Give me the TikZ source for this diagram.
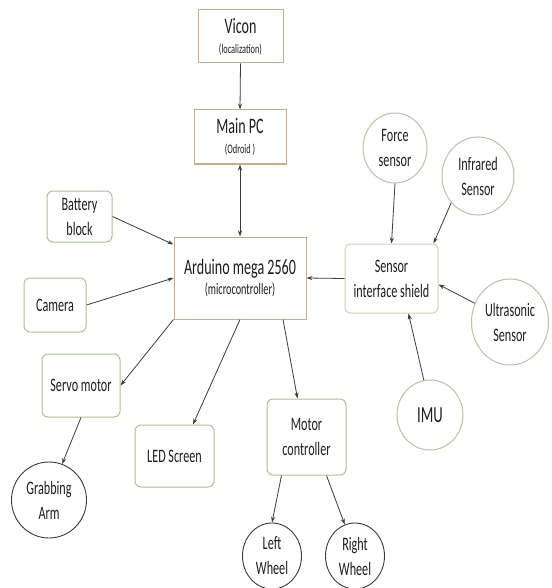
\documentclass[tikz,border=0pt]{standalone}
\usepackage{fontspec}
\setmainfont{Carlito}[FakeStretch=0.64]
\usetikzlibrary{arrows.meta,shapes.geometric}
\definecolor{tanc}{HTML}{C9AC88}
\definecolor{lighttan}{HTML}{DDCBB0}
\definecolor{greenc}{HTML}{A9C48E}
\definecolor{circc}{HTML}{B3C6A2}
\definecolor{darkc}{HTML}{3A3A3A}
\definecolor{arrc}{HTML}{3C3C3C}
\definecolor{txt}{HTML}{1E1E1E}
\newcommand{\fbig}{\fontsize{22}{26}\selectfont}
\newcommand{\fmid}{\fontsize{19}{25}\selectfont}
\newcommand{\fsml}{\fontsize{16}{20}\selectfont}
\newcommand{\ftiny}{\fontsize{13}{16}\selectfont}
\begin{document}
\begin{tikzpicture}[x=1pt,y=-1pt,
  tanbox/.style={rectangle,draw=tanc,line width=1pt,inner sep=0pt,align=center,text=txt},
  shieldbox/.style={rectangle,draw=lighttan,line width=1pt,rounded corners=5pt,inner sep=0pt,align=center,text=txt,font=\fmid},
  greenbox/.style={rectangle,draw=greenc,line width=1pt,rounded corners=6pt,inner sep=0pt,align=center,text=txt,font=\fmid},
  greencirc/.style={ellipse,draw=circc,line width=1pt,inner sep=0pt,align=center,text=txt,font=\fmid},
  darkcirc/.style={ellipse,draw=darkc,line width=0.9pt,inner sep=0pt,align=center,text=txt,font=\fmid},
  arr/.style={-{Stealth[length=6pt,width=4pt]},draw=arrc,line width=0.8pt},
  dbl/.style={{Stealth[length=6pt,width=4pt]}-{Stealth[length=6pt,width=4pt]},draw=arrc,line width=0.8pt}]
\useasboundingbox (0,0) rectangle (551,588);
\fill[white] (0,0) rectangle (551,588);

\node[tanbox,minimum width=85pt,minimum height=53pt] (vicon) at (240.5,36.5)
  {{\fbig Vicon}\\[8pt]{\ftiny (localization)}};
\node[tanbox,minimum width=92pt,minimum height=54pt] (pc) at (240,137)
  {{\fbig Main PC}\\[8pt]{\ftiny (Odroid )}};
\node[tanbox,minimum width=132pt,minimum height=82pt] (ard) at (240,278)
  {{\fbig Arduino mega 2560}\\[4pt]{\fsml (microcontroller)}};
\node[shieldbox,minimum width=93pt,minimum height=69pt] (shield) at (391.5,278.5)
  {Sensor\\interface shield};

\node[greenbox,minimum width=65pt,minimum height=51pt] (bat) at (79.5,216.5)
  {Battery\\block};
\node[greenbox,minimum width=62pt,minimum height=54pt] (cam) at (55,305)
  {Camera};
\node[greenbox,minimum width=78pt,minimum height=63pt] (servo) at (81,385.5)
  {Servo motor};
\node[greenbox,minimum width=79pt,minimum height=62pt] (led) at (174.5,456)
  {LED Screen};
\node[greenbox,minimum width=79pt,minimum height=76pt] (motor) at (306.5,437)
  {Motor\\controller};

\node[greencirc,minimum width=64pt,minimum height=70pt] (force) at (395,148)
  {Force\\sensor};
\node[greencirc,minimum width=72pt,minimum height=78pt] (ir) at (478,176)
  {Infrared\\Sensor};
\node[greencirc,minimum width=77pt,minimum height=86pt] (us) at (510,322)
  {Ultrasonic\\Sensor};
\node[greencirc,minimum width=66pt,minimum height=70pt,font=\fontsize{23}{27}\selectfont] (imu) at (430,415)
  {IMU};

\node[darkcirc,minimum width=75pt,minimum height=76pt] (grab) at (49,500)
  {Grabbing\\Arm};
\node[darkcirc,minimum width=59pt,minimum height=66pt] (lw) at (272,556)
  {Left\\Wheel};
\node[darkcirc,minimum width=59pt,minimum height=66pt] (rw) at (355,556)
  {Right\\Wheel};

\draw[arr] (vicon.south) -- (pc.north);
\draw[dbl] (pc.south) -- (ard.north);
\draw[arr] (bat.east) -- ([yshift=-8pt]ard.north west);
\draw[arr] (cam.east) -- (ard.west);
\draw[arr] (ard.south west) -- (servo.east);
\draw[arr] (ard.south) -- ([xshift=18.5pt]led.north);
\draw[arr] ([xshift=43pt]ard.south) -- ([xshift=-9pt]motor.north);
\draw[arr] (shield.west) -- (ard.east);
\draw[arr] (force.south) -- (shield.north);
\draw[arr] (ir.225) -- ([xshift=-5pt]shield.north east);
\draw[arr] (us.152) -- ([yshift=-6pt]shield.east);
\draw[arr] (imu.100) -- ([xshift=17pt]shield.south);
\draw[arr] (servo.south) -- (grab.70);
\draw[arr] ([xshift=-25pt]motor.south) -- (lw.north);
\draw[arr] ([xshift=20pt]motor.south) -- (rw.108);
\end{tikzpicture}
\end{document}
